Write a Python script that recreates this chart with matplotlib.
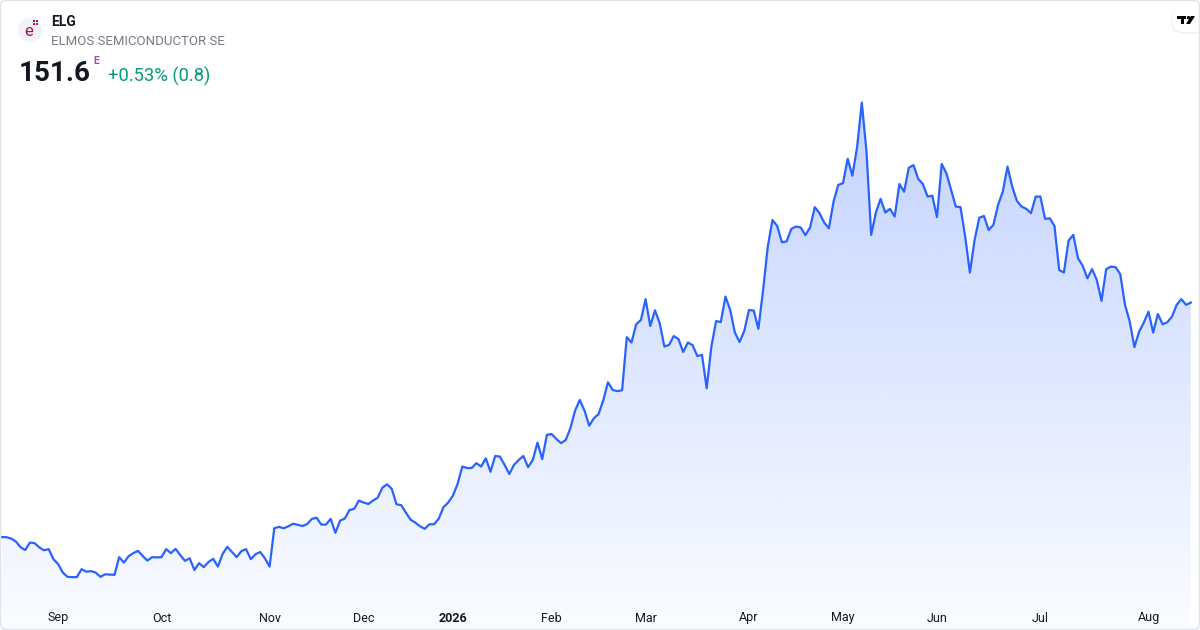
import numpy as np
import pandas as pd
import matplotlib.pyplot as plt
from matplotlib.patches import FancyBboxPatch, Circle, Rectangle, Polygon, PathPatch
from matplotlib.colors import LinearSegmentedColormap

# daily closes ELG (Xetra)
prices = [
    69.5, 69.5, 69.0, 68.0, 66.0, 65.0, 67.6, 67.4, 65.9, 64.9,
    65.3, 61.8, 60.1, 57.1, 55.6, 55.5, 55.5, 58.3, 57.4, 57.6,
    57.1, 55.6, 56.5, 56.4, 56.3, 62.5, 60.6, 62.8, 63.9, 64.7,
    62.9, 61.3, 62.5, 62.4, 62.5, 65.3, 63.9, 65.4, 63.2, 61.2,
    62.1, 58.0, 60.4, 59.0, 60.8, 61.9, 59.2, 63.6, 66.1, 64.3,
    62.5, 64.6, 65.3, 61.8, 63.5, 64.3, 62.1, 59.2, 72.6, 73.1,
    72.6, 73.3, 74.2, 73.8, 73.4, 74.1, 75.9, 76.3, 73.9, 73.9,
    75.9, 71.0, 75.3, 76.0, 79.0, 79.4, 82.3, 81.6, 81.1, 82.3,
    83.3, 86.8, 88.0, 86.4, 81.0, 80.7, 78.1, 75.6, 74.6, 73.3,
    72.4, 74.0, 74.0, 76.0, 80.0, 81.6, 84.0, 88.1, 94.2, 93.7,
    93.7, 95.4, 94.2, 97.1, 92.4, 97.9, 97.7, 94.8, 91.6, 94.8,
    96.5, 97.9, 94.0, 96.5, 102.6, 96.8, 105.3, 105.6, 103.9, 102.4,
    103.5, 107.6, 113.8, 117.5, 113.8, 108.5, 111.1, 112.6, 117.4, 123.7,
    121.0, 120.6, 120.9, 139.5, 137.6, 144.0, 145.5, 152.8, 143.4, 148.9,
    144.4, 136.2, 136.8, 139.9, 138.8, 134.3, 137.6, 136.7, 132.9, 133.3,
    121.6, 136.2, 145.1, 144.8, 153.7, 149.0, 141.1, 137.8, 141.7, 149.0,
    148.8, 142.4, 156.0, 171.2, 180.5, 178.4, 172.7, 173.0, 177.4, 178.2,
    177.9, 175.2, 177.9, 185.0, 182.9, 179.6, 177.6, 187.0, 192.8, 193.4,
    201.9, 196.0, 206.0, 221.6, 204.5, 175.3, 183.1, 187.9, 183.1, 184.4,
    181.7, 193.1, 190.4, 198.8, 199.7, 194.9, 193.1, 188.7, 189.0, 181.5,
    200.1, 196.9, 191.0, 185.2, 185.0, 174.7, 162.1, 173.5, 181.3, 181.9,
    177.0, 178.8, 185.8, 190.4, 199.2, 192.2, 187.2, 185.2, 184.4, 182.9,
    188.7, 188.7, 180.9, 181.1, 178.4, 163.0, 162.1, 173.3, 175.3, 167.1,
    164.5, 160.1, 163.3, 159.5, 152.2, 163.3, 164.2, 164.0, 161.5, 150.8,
    145.0, 136.0, 141.4, 144.6, 148.4, 141.1, 147.6, 144.0, 144.7, 146.7,
    150.8, 152.8, 150.8, 151.6,
]
first_day = "2025-08-14"
holidays = ["2025-12-24", "2025-12-25", "2025-12-26", "2025-12-31",
            "2026-01-01", "2026-04-03", "2026-04-06", "2026-05-01"]

ticker = "ELG"
company = "ELMOS SEMICONDUCTOR SE"
last_price = "151.6"
change_txt = "+0.53% (0.8)"

line_col = "#2962ff"
text_col = "#131722"
FONT = ["Roboto", "DejaVu Sans"]

days = pd.bdate_range(first_day, periods=300)
days = days[~days.isin(pd.to_datetime(holidays))][:len(prices)]
x = np.arange(len(prices))
y = np.array(prices)

fig = plt.figure(figsize=(12, 6.3), dpi=100)
ax = fig.add_axes([0, 0, 1, 1])
ylo, yhi = 37.0, 257.5
T = fig.dpi_scale_trans


def P(px, py):
    # pixel position (from top-left) -> inches for dpi_scale_trans
    return px / 100, (630 - py) / 100


# gradient area under the line
cmap = LinearSegmentedColormap.from_list(
    "area", [(41 / 255, 98 / 255, 1, 0.02), (41 / 255, 98 / 255, 1, 0.28)])
grad = np.linspace(0, 1, 256).reshape(-1, 1)
im = ax.imshow(grad, extent=[x[0], x[-1], ylo, y.max()], origin="lower",
               aspect="auto", cmap=cmap, zorder=1, interpolation="bicubic")
area = ax.fill_between(x, y, ylo, color="none", lw=0)
clip = PathPatch(area.get_paths()[0], transform=ax.transData, fc="none", ec="none")
ax.add_patch(clip)
im.set_clip_path(clip)

ax.plot(x, y, color=line_col, lw=1.6, zorder=3, solid_joinstyle="round")

ax.set_xlim(-0.36, 254.96)
ax.set_ylim(ylo, yhi)
ax.axis("off")

# month labels at the first trading day of each month
for i in range(1, len(days)):
    if days[i].month != days[i - 1].month:
        if days[i].month == 1:
            lab, wt = str(days[i].year), "bold"
        else:
            lab, wt = days[i].strftime("%b"), "normal"
        ax.text(i, 1 - 621.5 / 630, lab, transform=ax.get_xaxis_transform(),
                ha="center", va="baseline", fontsize=9, color=text_col,
                fontweight=wt, family=FONT)

# header
fig.add_artist(Circle(P(30, 30), 0.12, transform=T, fc="#f0f3fa", ec="none"))
fig.text(*P(28.5, 35.5), "e", transform=T, ha="center", va="baseline",
         fontsize=12, color="#b0124f", family=FONT)
for dx, dy in [(0, 0), (3, 0), (0, 3), (3, 3)]:
    fig.add_artist(Rectangle(P(32.5 + dx, 25 - dy), 0.02, 0.02, transform=T,
                             fc="#b0124f", ec="none"))
fig.text(*P(51, 25.7), ticker, transform=T, fontsize=10, fontweight="bold",
         color=text_col, family=FONT, va="baseline")
fig.text(*P(51, 45), company, transform=T, fontsize=9.5, color="#787b86",
         family=FONT, va="baseline")
fig.text(*P(18.5, 80.7), last_price, transform=T, fontsize=20, fontweight="bold",
         color=text_col, family=FONT, va="baseline")
fig.text(*P(93, 64), "E", transform=T, fontsize=7.5, fontweight="bold",
         color="#ab47bc", family=FONT, va="baseline")
fig.text(*P(107.5, 82), change_txt, transform=T, fontsize=13.2,
         color="#089981", family=FONT, va="baseline")

# TradingView badge
fig.add_artist(FancyBboxPatch(P(1171, 33.5), 0.42, 0.25, transform=T,
                              boxstyle="round,pad=0,rounding_size=0.12",
                              fc="#000000", alpha=0.06, ec="none"))
fig.add_artist(FancyBboxPatch(P(1172, 32), 0.40, 0.24, transform=T,
                              boxstyle="round,pad=0,rounding_size=0.12",
                              fc="white", ec="none"))
fig.add_artist(Polygon([P(1177, 16), P(1186, 16), P(1186, 19), P(1183.5, 19),
                        P(1183.5, 24), P(1180.5, 24), P(1180.5, 19), P(1177, 19)],
                       transform=T, fc="black", ec="none"))
fig.add_artist(Circle(P(1188.5, 17.6), 0.017, transform=T, fc="black", ec="none"))
fig.add_artist(Polygon([P(1191, 16), P(1195, 16), P(1190, 24), P(1186, 24)],
                       transform=T, fc="black", ec="none"))

# frame
fig.add_artist(FancyBboxPatch((0.005, 0.005), 11.99, 6.29, transform=T,
                              boxstyle="round,pad=0,rounding_size=0.06",
                              fc="none", ec="#e0e3eb", lw=1))

fig.savefig("out.png", dpi=100)
